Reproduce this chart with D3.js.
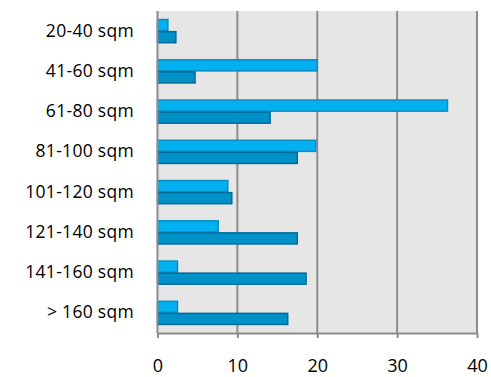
<!DOCTYPE html>
<html><head><meta charset="utf-8">
<script src="https://cdn.jsdelivr.net/npm/d3@7"></script>
<style>body{margin:0;background:#fff}svg{display:block}</style>
</head><body>
<script>
const categories = ["20-40 sqm","41-60 sqm","61-80 sqm","81-100 sqm","101-120 sqm","121-140 sqm","141-160 sqm","> 160 sqm"];
const series1 = [1.3, 20.0, 36.3, 19.8, 8.8, 7.6, 2.5, 2.5];
const series2 = [2.3, 4.7, 14.1, 17.5, 9.3, 17.5, 18.6, 16.3];
const xTicks = [0,10,20,30,40];

const W=491,H=377;
const m={l:157.5,r:14,t:11,b:44};
const svg=d3.select("body").append("svg").attr("width",W).attr("height",H);
const x=d3.scaleLinear().domain([0,40]).range([m.l,W-m.r]);
const y=d3.scaleBand().domain(categories).range([m.t,H-m.b]).paddingInner(0.4).paddingOuter(0.2);
const sub=d3.scaleBand().domain([0,1]).range([0,y.bandwidth()]);

svg.append("rect").attr("x",x(0)).attr("y",m.t).attr("width",x(40)-x(0)).attr("height",H-m.b-m.t).attr("fill","#e6e6e6");

svg.append("g").selectAll("line").data(xTicks.slice(1)).join("line")
 .attr("x1",d=>x(d)).attr("x2",d=>x(d)).attr("y1",m.t).attr("y2",H-m.b)
 .attr("stroke","#8c8c8c").attr("stroke-width",2);

const rows=svg.append("g").selectAll("g").data(categories).join("g");
rows.append("rect").attr("x",x(0)).attr("y",(d,i)=>y(d)+sub(0)+0.5)
 .attr("width",(d,i)=>x(series1[i])-x(0)).attr("height",sub.bandwidth()-1)
 .attr("fill","#00b0f0").attr("stroke","#0a8cc0").attr("stroke-width",1.5);
rows.append("rect").attr("x",x(0)).attr("y",(d,i)=>y(d)+sub(1)+0.5)
 .attr("width",(d,i)=>x(series2[i])-x(0)).attr("height",sub.bandwidth()-1)
 .attr("fill","#0091c8").attr("stroke","#006a98").attr("stroke-width",1.5);

svg.append("line").attr("x1",x(0)).attr("x2",x(0)).attr("y1",m.t).attr("y2",H-m.b).attr("stroke","#8c8c8c").attr("stroke-width",2);

const xa=svg.append("g").attr("transform",`translate(0,${H-m.b})`)
 .call(d3.axisBottom(x).tickValues(xTicks).tickSize(5).tickPadding(21).tickSizeOuter(0));
xa.select(".domain").attr("stroke","#8c8c8c").attr("stroke-width",2);
xa.selectAll(".tick line").attr("stroke","#8c8c8c").attr("stroke-width",2);
xa.selectAll("text").attr("font-family","Open Sans").attr("font-size",18).attr("fill","#000");

const ya=svg.append("g").attr("transform",`translate(${x(0)},0)`)
 .call(d3.axisLeft(y).tickSize(0).tickPadding(23.5));
ya.select(".domain").remove();
ya.selectAll("text").attr("font-family","Open Sans").attr("font-size",17.5).attr("fill","#000").attr("letter-spacing","0.3px");
</script>
</body></html>
